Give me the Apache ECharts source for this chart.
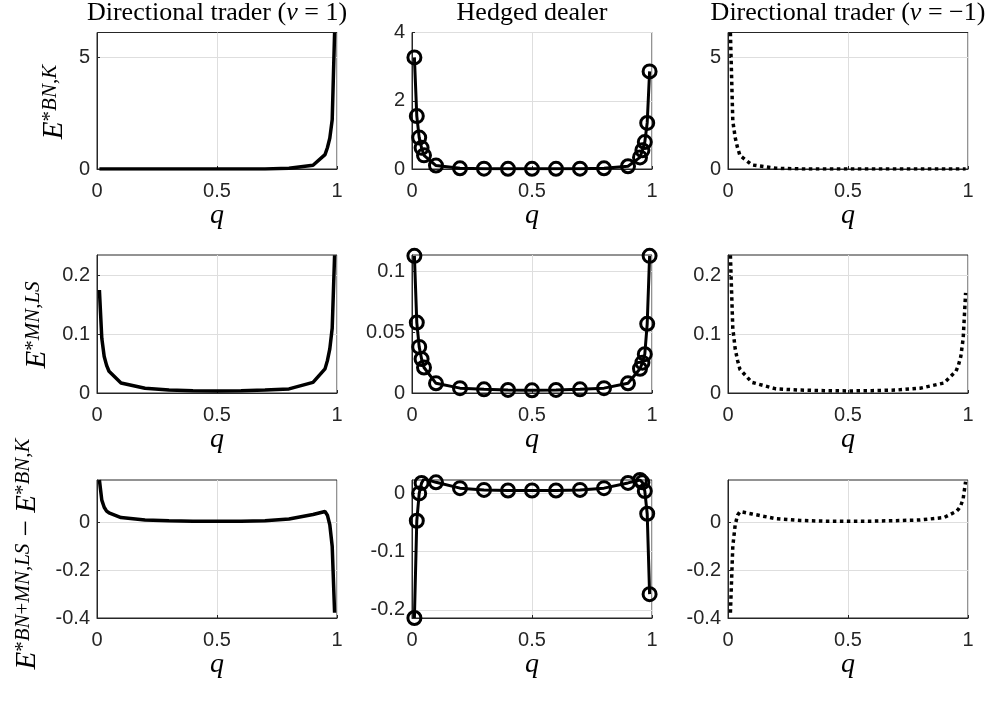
<!DOCTYPE html>
<html><head><meta charset="utf-8">
<script src="https://cdn.jsdelivr.net/npm/echarts@6/dist/echarts.min.js"></script>
<style>html,body{margin:0;padding:0;background:#fff}#c{width:1002px;height:701px}</style>
</head><body><div id="c"></div>
<script>
// ---------- data ----------
const q = [0.01,0.02,0.03,0.04,0.05,0.1,0.2,0.3,0.4,0.5,0.6,0.7,0.8,0.9,0.95,0.96,0.97,0.98,0.99];

// Row 1: E*BN,K
const bnkUp     = [0,0,0,0,0,0,0,0,0,0,0,0.005,0.03,0.17,0.64,0.95,1.38,2.2,6.09];
const bnkHedged = [3.27,1.55,0.92,0.62,0.4,0.1,0.02,0.01,0.005,0.005,0.005,0.01,0.02,0.08,0.34,0.55,0.79,1.35,2.86];
const bnkDown   = [6.09,2.15,1.4,0.94,0.6,0.18,0.03,0.005,0,0,0,0,0,0,0,0,0,0,0];

// Row 2: E*MN,LS
const mnlsUp     = [0.175,0.093,0.062,0.047,0.037,0.017,0.008,0.005,0.004,0.0035,0.004,0.005,0.007,0.018,0.041,0.055,0.075,0.11,0.234];
const mnlsHedged = [0.113,0.058,0.038,0.028,0.021,0.008,0.004,0.003,0.0025,0.0022,0.0025,0.003,0.004,0.008,0.02,0.025,0.032,0.057,0.113];
const mnlsDown   = [0.234,0.11,0.075,0.055,0.04,0.018,0.007,0.005,0.004,0.0035,0.004,0.005,0.008,0.017,0.037,0.047,0.062,0.093,0.17];

// Row 3: E*BN+MN,LS - E*BN,K
const diffUp     = [0.177,0.093,0.063,0.047,0.04,0.02,0.01,0.007,0.005,0.005,0.005,0.007,0.014,0.033,0.045,0.03,-0.01,-0.1,-0.378];
const diffHedged = [-0.214,-0.047,0.0,0.018,0.025,0.019,0.009,0.006,0.005,0.005,0.005,0.006,0.009,0.018,0.023,0.019,0.004,-0.035,-0.173];
const diffDown   = [-0.378,-0.1,-0.01,0.03,0.045,0.035,0.015,0.008,0.005,0.005,0.005,0.007,0.01,0.02,0.045,0.055,0.07,0.1,0.17];

// tick labels
const xTicks = [0, 0.5, 1];
const yTicksBnk = [0, 5];
const yTicksBnkHedged = [0, 2, 4];
const yTicksMnls = [0, 0.1, 0.2];
const yTicksMnlsHedged = [0, 0.05, 0.1];
const yTicksDiff = [-0.4, -0.2, 0];
const yTicksDiffHedged = [-0.2, -0.1, 0];

// axis limits
const yLimBnk = [0, 6.1];
const yLimBnkHedged = [0, 4];
const yLimMnls = [0, 0.2345];
const yLimMnlsHedged = [0, 0.1137];
const yLimDiff = [-0.4, 0.177];
const yLimDiffHedged = [-0.214, 0.023];

// ---------- layout ----------
const colLeft = [97, 412, 728];
const plotW = 240;
const rowTop = [32.5, 255, 480];
const rowH = [136.5, 138, 138];

const seriesData = [
  [bnkUp, bnkHedged, bnkDown],
  [mnlsUp, mnlsHedged, mnlsDown],
  [diffUp, diffHedged, diffDown]
];
const yTicks = [
  [yTicksBnk, yTicksBnkHedged, yTicksBnk],
  [yTicksMnls, yTicksMnlsHedged, yTicksMnls],
  [yTicksDiff, yTicksDiffHedged, yTicksDiff]
];
const yLims = [
  [yLimBnk, yLimBnkHedged, yLimBnk],
  [yLimMnls, yLimMnlsHedged, yLimMnls],
  [yLimDiff, yLimDiffHedged, yLimDiff]
];

const AX = '#262626';
const GRIDC = '#dedede';
const SANS = 'Liberation Sans, Arial, sans-serif';
const SERIF = 'Liberation Serif, Times New Roman, serif';
const fmt = v => String(parseFloat((+v).toFixed(6)));

const grids = [], xAxes = [], yAxes = [], series = [], graphics = [];
for (let r = 0; r < 3; r++) {
  for (let c = 0; c < 3; c++) {
    const i = r * 3 + c;
    grids.push({left: colLeft[c], top: rowTop[r], width: plotW, height: rowH[r],
      show: true, borderColor: AX, borderWidth: 1, backgroundColor: 'transparent', containLabel: false});
    xAxes.push({type: 'value', gridIndex: i, min: 0, max: 1,
      axisLine: {show: true, onZero: false, lineStyle: {color: AX, width: 1}},
      axisTick: {show: true, inside: true, length: 3, lineStyle: {color: AX}, customValues: xTicks},
      axisLabel: {show: true, customValues: xTicks, formatter: fmt, color: AX, fontFamily: SANS, fontSize: 20, margin: 12},
      splitLine: {show: true, lineStyle: {color: GRIDC, width: 1}}
    });
    const yt = yTicks[r][c];
    yAxes.push({type: 'value', gridIndex: i, min: yLims[r][c][0], max: yLims[r][c][1],
      axisLine: {show: true, onZero: false, lineStyle: {color: AX, width: 1}},
      axisTick: {show: true, inside: true, length: 3, lineStyle: {color: AX}, customValues: yt},
      axisLabel: {show: true, customValues: yt, formatter: fmt, color: AX, fontFamily: SANS, fontSize: 20, margin: 7},
      splitLine: {show: true, lineStyle: {color: GRIDC, width: 1}}
    });
    const d = seriesData[r][c].map((v, k) => [q[k], v]);
    const s = {type: 'line', xAxisIndex: i, yAxisIndex: i, data: d, animation: false, clip: true,
      lineStyle: {color: '#000', width: 3.5}, itemStyle: {color: '#000'}, showSymbol: false, symbol: 'none', z: 3};
    if (c === 1) {
      s.symbol = 'circle'; s.showSymbol = true; s.symbolSize = 13;
      s.lineStyle.width = 3;
      s.itemStyle = {color: 'rgba(0,0,0,0)', borderColor: '#000', borderWidth: 3};
    }
    if (c === 2) {
      s.lineStyle = {color: '#000', width: 3.5, type: [3.5, 3.5], cap: 'butt'};
    }
    series.push(s);
    // q label
    graphics.push({type: 'text', x: colLeft[c] + plotW / 2, y: rowTop[r] + rowH[r] + 47,
      style: {text: 'q', fontFamily: SERIF, fontStyle: 'italic', fontSize: 28, fill: '#000', align: 'center', verticalAlign: 'middle'}});
  }
}

// titles
const titles = [
  '{n|Directional trader (}{i|v}{n| = 1)}',
  '{n|Hedged dealer}',
  '{n|Directional trader (}{i|v}{n| = \u22121)}'
];
for (let c = 0; c < 3; c++) {
  graphics.push({type: 'text', x: colLeft[c] + plotW / 2, y: 13,
    style: {text: titles[c], align: 'center', verticalAlign: 'middle', fill: '#000',
      rich: {n: {fontFamily: SERIF, fontSize: 26, fill: '#000'}, i: {fontFamily: SERIF, fontStyle: 'italic', fontSize: 26, fill: '#000'}}}});
}

// y labels (rotated)
const richY = {
  e: {fontFamily: SERIF, fontStyle: 'italic', fontSize: 29, lineHeight: 29, verticalAlign: 'bottom', fill: '#000'},
  m: {fontFamily: SERIF, fontSize: 29, lineHeight: 29, verticalAlign: 'bottom', fill: '#000'},
  s: {fontFamily: SERIF, fontStyle: 'italic', fontSize: 21, lineHeight: 21, padding: [0, 0, 12, 0], verticalAlign: 'top', fill: '#000'},
  u: {fontFamily: SERIF, fontSize: 21, lineHeight: 21, padding: [0, 0, 12, 0], verticalAlign: 'top', fill: '#000'}
};
const yLabels = [
  {text: '{e|E}{u|*}{s|BN}{u|,}{s|K}', x: 54, y: 102},
  {text: '{e|E}{u|*}{s|MN}{u|,}{s|LS}', x: 37, y: 325},
  {text: '{e|E}{u|*}{s|BN}{u|+}{s|MN}{u|,}{s|LS}{m| \u2212 }{e|E}{u|*}{s|BN}{u|,}{s|K}', x: 27, y: 554}
];
yLabels.forEach(l => graphics.push({type: 'text', x: l.x, y: l.y, rotation: Math.PI / 2,
  style: {text: l.text, align: 'center', verticalAlign: 'middle', rich: richY}}));

const chart = echarts.init(document.getElementById('c'), null, {renderer: 'canvas'});
chart.setOption({
  animation: false,
  backgroundColor: '#fff',
  grid: grids, xAxis: xAxes, yAxis: yAxes, series: series,
  graphic: graphics
});
</script></body></html>
